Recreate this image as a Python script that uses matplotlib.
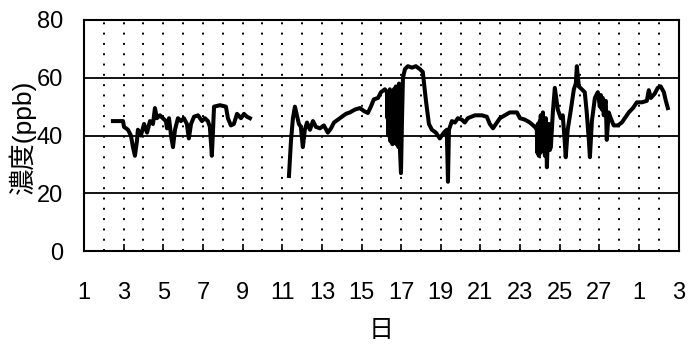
import matplotlib
matplotlib.use("Agg")
import matplotlib.pyplot as plt

plt.rcParams['font.family'] = ['Liberation Sans', 'Noto Sans CJK JP', 'DejaVu Sans']

# first block of measurements (day of month, ppb)
days1 = [2.46, 2.97, 3.02, 3.22, 3.37, 3.47, 3.57, 3.67, 3.72, 3.87, 4.03, 4.18,
         4.33, 4.48, 4.58, 4.68, 4.83, 4.98, 5.13, 5.19, 5.29, 5.39, 5.49, 5.59,
         5.74, 5.89, 6.04, 6.19, 6.29, 6.40, 6.55, 6.75, 6.95, 7.10, 7.25, 7.35,
         7.40, 7.45, 7.51, 7.56, 7.86, 8.16, 8.26, 8.41, 8.56, 8.72, 8.92, 9.07,
         9.22, 9.37]
ppb1 = [45, 45, 43, 42, 40, 36, 33, 38, 42, 40, 44, 41,
        45, 44, 49.5, 46, 47, 46, 45, 42.5, 46, 40, 36, 42,
        46, 45, 46, 44, 39, 44, 46.5, 47, 45, 46, 45, 43,
        38, 33, 42, 50, 50.5, 50, 46, 43.5, 44, 47.5, 46, 47.5,
        46.5, 46]

# second block, after the gap
days2 = [11.34, 11.44, 11.54, 11.64, 11.74, 11.84, 11.94, 12.04, 12.14, 12.25,
         12.40, 12.55, 12.70, 12.90, 13.10, 13.30, 13.46, 13.61, 13.81, 14.01,
         14.21, 14.41, 14.67, 14.92, 15.12, 15.32, 15.47, 15.62, 15.83, 15.98,
         16.18, 16.28, 16.31, 16.33, 16.36, 16.38, 16.41, 16.43, 16.46, 16.48,
         16.51, 16.53, 16.56, 16.58, 16.61, 16.63, 16.66, 16.68, 16.71, 16.73,
         16.76, 16.79, 16.81, 16.84, 16.86, 16.89, 16.91, 16.94, 16.99, 17.04,
         17.09, 17.19, 17.34, 17.54, 17.74, 17.94, 18.09, 18.25, 18.40, 18.55,
         18.75, 18.95, 19.15, 19.30, 19.36, 19.41, 19.56, 19.71, 19.86, 20.06,
         20.21, 20.36, 20.72, 21.07, 21.32, 21.47, 21.63, 21.78, 21.98, 22.23,
         22.48, 22.84, 22.99, 23.24, 23.49, 23.74, 23.84, 23.87, 23.89, 23.94,
         23.99, 24.02, 24.04, 24.10, 24.15, 24.20, 24.25, 24.30, 24.35, 24.40,
         24.45, 24.50, 24.55, 24.65, 24.75, 24.90, 25.05, 25.15, 25.25, 25.30,
         25.40, 25.56, 25.71, 25.81, 25.86, 25.96, 26.11, 26.26, 26.36, 26.47,
         26.52, 26.62, 26.77, 26.92, 27.02, 27.07, 27.12, 27.17, 27.22, 27.27,
         27.32, 27.37, 27.47, 27.57, 27.72, 27.93, 28.13, 28.28, 28.48, 28.69,
         28.89, 29.14, 29.39, 29.49, 29.59, 29.79, 29.94, 30.09, 30.25, 30.35,
         30.45]
ppb2 = [26, 38, 46, 50, 47, 44, 43, 36, 42, 44.5,
        42, 45, 43, 42.5, 43.5, 41, 42.5, 44.5, 45.5, 46.5,
        47.5, 48, 49, 49.5, 48.5, 47.8, 50, 52.5, 53, 55,
        56, 55, 46, 55, 40, 54, 43, 56, 38, 54,
        45, 52, 37, 55, 42, 56, 39, 54, 44, 57,
        37, 52, 41, 56, 36, 58, 44, 35, 27, 45,
        60, 63, 64, 63.5, 64, 63, 62, 52, 44, 42,
        41, 39, 41, 42, 24, 42, 45, 44.5, 46, 45.5,
        44.5, 46, 47, 47, 46.5, 44, 42.5, 44, 46, 47,
        48, 48, 46, 45.5, 44.5, 43, 42, 34, 44, 33,
        45, 34, 47, 35, 48, 38, 33, 46, 29, 40,
        44, 35, 36, 48, 56.5, 49, 46, 47, 38, 32.5,
        42, 49, 56, 58, 64, 57, 56, 55, 48, 38,
        32.5, 45, 53, 55, 50, 54, 49, 53, 47, 51,
        52, 38.5, 48, 46, 43.5, 43.5, 44.5, 46, 48, 49.5,
        51.5, 51.5, 52, 55.7, 53, 54.5, 56.5, 57, 55, 52,
        49.5]

tick_pos = [1, 3, 5, 7, 9, 11, 13, 15, 17, 19, 21, 23, 25, 27, 29, 31]
tick_labels = ['1', '3', '5', '7', '9', '11', '13', '15', '17', '19', '21',
               '23', '25', '27', '1', '3']
y_ticks = [0, 20, 40, 60, 80]

fig = plt.figure(figsize=(6.94, 3.44), dpi=100)
ax = fig.add_axes([0.121, 0.270, 0.857, 0.672])

# dotted day lines and solid level lines
for d in range(2, 31):
    ax.axvline(d, color="black", lw=1.4, ls=(0, (1, 4.3)), zorder=1)
for v in [20, 40, 60]:
    ax.axhline(v, color="black", lw=1.3, zorder=1)

ax.plot(days1, ppb1, color="black", lw=2.9, zorder=3)
ax.plot(days2, ppb2, color="black", lw=2.9, zorder=3)

ax.set_xlim(1, 31)
ax.set_ylim(0, 80)
ax.set_xticks(tick_pos)
ax.set_xticklabels(tick_labels, fontsize=17)
ax.set_yticks(y_ticks)
ax.set_yticklabels([str(v) for v in y_ticks], fontsize=17)
ax.tick_params(axis="x", direction="in", length=5, width=1.2, pad=22)
ax.tick_params(axis="y", length=0, pad=15)
for s in ax.spines.values():
    s.set_linewidth(1.5)

fig.text(22 / 694, 1 - 137 / 344, "濃度(ppb)", fontsize=19, rotation=90,
         ha="center", va="center")
ax.set_xlabel("日", fontsize=18)
ax.xaxis.set_label_coords(0.5, -0.29)

fig.savefig("out.png", dpi=100)
